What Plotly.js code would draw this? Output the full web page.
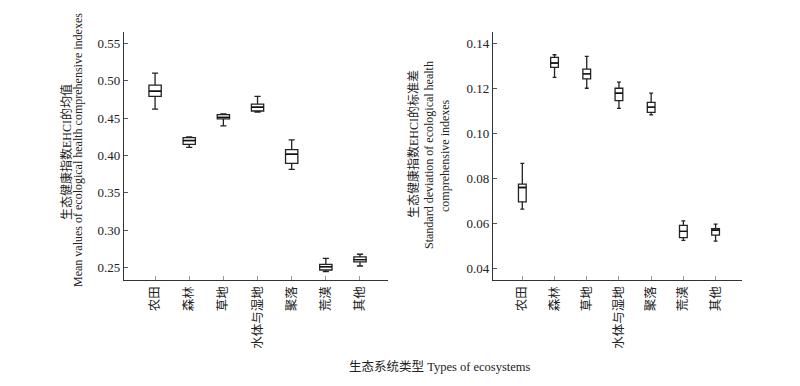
<!DOCTYPE html>
<html>
<head>
<meta charset="utf-8">
<script src="https://cdn.plot.ly/plotly-3.0.1.min.js"></script>
<style>html,body{margin:0;padding:0;background:#fff;}#chart{width:800px;height:386px;}</style>
</head>
<body>
<div id="chart"></div>
<script>
// Categories (ecosystem types)
const categories = ["农田", "森林", "草地", "水体与湿地", "聚落", "荒漠", "其他"];

// Left panel: mean values of EHCI (box statistics)
const meanUpper  = [0.510, 0.425, 0.4555, 0.479, 0.4208, 0.2626, 0.268];
const meanQ3     = [0.494, 0.424, 0.4546, 0.4686, 0.4079, 0.2545, 0.2644];
const meanMedian = [0.486, 0.420, 0.451, 0.4646, 0.4017, 0.2514, 0.2608];
const meanQ1     = [0.479, 0.415, 0.449, 0.4595, 0.3896, 0.2470, 0.2577];
const meanLower  = [0.462, 0.411, 0.4395, 0.458, 0.3816, 0.2447, 0.2523];

// Right panel: standard deviation of EHCI (box statistics)
const sdUpper  = [0.0865, 0.1348, 0.1341, 0.1226, 0.1177, 0.0610, 0.0595];
const sdQ3     = [0.0773, 0.1336, 0.1284, 0.1199, 0.1136, 0.0590, 0.0575];
const sdMedian = [0.0758, 0.1311, 0.1263, 0.1177, 0.1115, 0.0563, 0.0568];
const sdQ1     = [0.0694, 0.1292, 0.1241, 0.1144, 0.1092, 0.0535, 0.0546];
const sdLower  = [0.0662, 0.1247, 0.1199, 0.1110, 0.1081, 0.0523, 0.0520];

// Tick values
const meanTicks = [0.25, 0.30, 0.35, 0.40, 0.45, 0.50, 0.55];
const sdTicks = [0.04, 0.06, 0.08, 0.10, 0.12, 0.14];

const FONT = "Liberation Serif, Times New Roman, Noto Sans CJK SC, serif";
const W = 800, H = 386;
const px = v => v / W;
const py = v => (H - v) / H;

const boxStyle = {
  type: "box",
  boxpoints: false,
  fillcolor: "#ffffff",
  line: {color: "#222", width: 1.3},
  whiskerwidth: 0.5,
  hoverinfo: "skip"
};

// thicker median bar: a degenerate box collapsed on the median
function medianBar(med, width, xa, ya) {
  return Object.assign({}, boxStyle, {
    x: categories, q1: med, median: med, q3: med, lowerfence: med, upperfence: med,
    width: width, xaxis: xa, yaxis: ya, fillcolor: "rgba(0,0,0,0)",
    line: {color: "#111", width: 1.4}
  });
}

const traces = [
  Object.assign({}, boxStyle, {
    x: categories, q1: meanQ1, median: meanMedian, q3: meanQ3,
    lowerfence: meanLower, upperfence: meanUpper,
    width: 0.36, xaxis: "x", yaxis: "y"
  }),
  medianBar(meanMedian, 0.36, "x", "y"),
  Object.assign({}, boxStyle, {
    x: categories, q1: sdQ1, median: sdMedian, q3: sdQ3,
    lowerfence: sdLower, upperfence: sdUpper,
    width: 0.24, xaxis: "x2", yaxis: "y2"
  }),
  medianBar(sdMedian, 0.24, "x2", "y2")
];

const xBase = {
  type: "category",
  range: [-0.91, 6.82],
  showline: true, linecolor: "#333", linewidth: 1.2,
  ticks: "inside", ticklen: 4, tickcolor: "#999",
  tickangle: -90,
  tickfont: {family: FONT, size: 12.5, color: "#222"},
  showgrid: false, zeroline: false, fixedrange: true
};
const yBase = {
  showline: true, linecolor: "#333", linewidth: 1.2,
  ticks: "inside", ticklen: 4, tickcolor: "#555",
  tickfont: {family: FONT, size: 13, color: "#222"},
  tickformat: ".2f",
  showgrid: false, zeroline: false, fixedrange: true
};

const yDom = [py(280), py(32)];

const layout = {
  width: W, height: H,
  margin: {l: 0, r: 0, t: 0, b: 0},
  paper_bgcolor: "#fff", plot_bgcolor: "#fff",
  showlegend: false,
  boxmode: "overlay",
  xaxis: Object.assign({}, xBase, {domain: [px(124), px(388)], anchor: "y"}),
  xaxis2: Object.assign({}, xBase, {domain: [px(493), px(742)], anchor: "y2"}),
  yaxis: Object.assign({}, yBase, {domain: yDom, range: [0.2336, 0.5651], tickvals: meanTicks, anchor: "x"}),
  yaxis2: Object.assign({}, yBase, {domain: yDom, range: [0.0347, 0.1449], tickvals: sdTicks, anchor: "x2"}),
  annotations: [
    {text: "生态健康指数EHCI的均值", x: px(67), y: py(152), xref: "paper", yref: "paper",
     textangle: -90, showarrow: false, xanchor: "center", yanchor: "middle",
     font: {family: FONT, size: 12, color: "#222"}},
    {text: "Mean values of ecological health comprehensive indexes", x: px(78), y: py(150), xref: "paper", yref: "paper",
     textangle: -90, showarrow: false, xanchor: "center", yanchor: "middle",
     font: {family: FONT, size: 12, color: "#222"}},
    {text: "生态健康指数EHCI的标准差", x: px(413), y: py(144), xref: "paper", yref: "paper",
     textangle: -90, showarrow: false, xanchor: "center", yanchor: "middle",
     font: {family: FONT, size: 12, color: "#222"}},
    {text: "Standard deviation of ecological health", x: px(429), y: py(155), xref: "paper", yref: "paper",
     textangle: -90, showarrow: false, xanchor: "center", yanchor: "middle",
     font: {family: FONT, size: 12, color: "#222"}},
    {text: "comprehensive indexes", x: px(445), y: py(156), xref: "paper", yref: "paper",
     textangle: -90, showarrow: false, xanchor: "center", yanchor: "middle",
     font: {family: FONT, size: 12, color: "#222"}},
    {text: "生态系统类型 Types of ecosystems", x: px(440), y: py(367), xref: "paper", yref: "paper",
     showarrow: false, xanchor: "center", yanchor: "middle",
     font: {family: FONT, size: 12.5, color: "#222"}}
  ]
};

Plotly.newPlot("chart", traces, layout, {staticPlot: true, displayModeBar: false});
</script>
</body>
</html>
